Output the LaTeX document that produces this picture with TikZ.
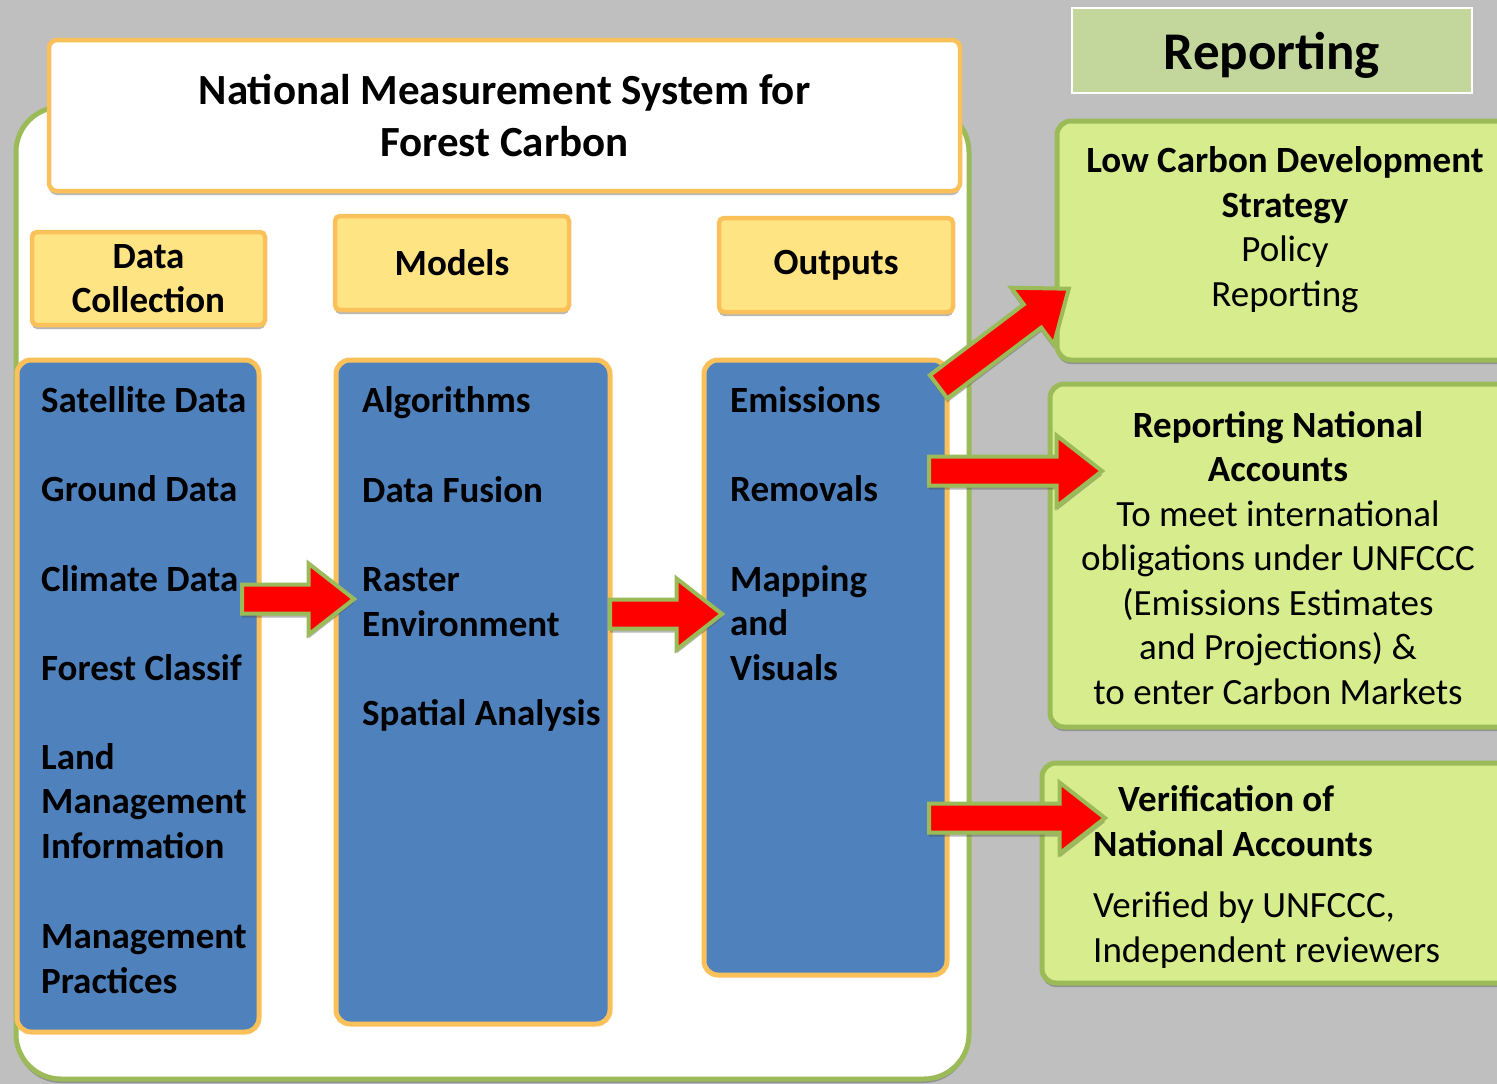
\documentclass[tikz,border=0pt]{standalone}
\usepackage{fontspec}
\setmainfont{Carlito}
\usetikzlibrary{shadows,shapes.arrows}

\definecolor{bggray}{RGB}{191,191,191}
\definecolor{leafgreen}{RGB}{155,187,89}
\definecolor{limefill}{RGB}{215,236,140}
\definecolor{sagefill}{RGB}{195,214,155}
\definecolor{amber}{RGB}{250,192,90}
\definecolor{butter}{RGB}{255,228,131}
\definecolor{steel}{RGB}{79,129,189}

\begin{document}
\begin{tikzpicture}[x=1pt,y=-1pt,
  boxshadow/.style={drop shadow={shadow xshift=0pt,shadow yshift=-4pt,opacity=.4,fill=black!70}},
  titlebox/.style={draw=amber,line width=4.5pt,fill=white,rounded corners=8pt,boxshadow,align=center,
    font=\fontsize{43}{52}\selectfont\bfseries},
  headbox/.style={draw=amber,line width=4.5pt,fill=butter,rounded corners=5pt,boxshadow,align=center,
    font=\fontsize{37}{44.5}\selectfont\bfseries},
  colbox/.style={draw=amber,line width=5pt,fill=steel,rounded corners=14pt},
  greenbox/.style={draw=leafgreen,line width=5pt,fill=limefill,rounded corners=14pt,boxshadow},
  % multi-line texts sit on the baseline of their last line
  item/.style={anchor=base west,align=left,inner sep=0pt,font=\fontsize{37}{44.5}\selectfont\bfseries},
  note/.style={anchor=base,align=center,inner sep=0pt,font=\fontsize{37}{44.5}\selectfont},
  bigarrow/.style={single arrow,draw=leafgreen,line width=4pt,fill=red,anchor=tail,
    inner xsep=0pt,inner ysep=12.5pt,minimum height=#1,single arrow head extend=21pt,
    single arrow tip angle=76,single arrow head indent=0pt,boxshadow},
]
\clip (0,0) rectangle (1497,1084);
\fill[bggray] (0,0) rectangle (1497,1084);

% measurement system frame
\draw[leafgreen,line width=5pt,fill=white,rounded corners=45pt,boxshadow] (16,107) rectangle (969,1079);
\node[titlebox,minimum width=911pt,minimum height=151pt] (nms) at (504.5,115.5) {National Measurement System for\\Forest Carbon};

\node[headbox,minimum width=233pt,minimum height=93pt] (collecthd) at (148.5,278.5) {Data\\Collection};
\node[headbox,minimum width=234pt,minimum height=94pt] (modelshd) at (452,263) {Models};
\node[headbox,minimum width=234pt,minimum height=94pt] (outputshd) at (836,265) {Outputs};

\node[colbox,minimum width=242pt,minimum height=672pt] (collectcol) at (138,696) {};
\node[colbox,minimum width=274pt,minimum height=664pt] (modelscol) at (473,692) {};
\node[colbox,minimum width=243pt,minimum height=615pt] (outputscol) at (825.5,667.5) {};

% reporting side
\node[draw=white,line width=2pt,fill=sagefill,minimum width=400pt,minimum height=85pt,text depth=0pt,
  font=\fontsize{53}{60}\selectfont\bfseries] (rep) at (1272,50.5) {Reporting};
\node[greenbox,minimum width=473pt,minimum height=239pt] (lcdsbox) at (1293.5,240.5) {};
\node[greenbox,minimum width=480pt,minimum height=343pt] (rnabox) at (1290,555.5) {};
\node[greenbox,minimum width=488pt,minimum height=220pt] (vnabox) at (1286,873) {};

% arrows
\node[bigarrow=112pt] (toModels) at (240,599) {};
\node[bigarrow=112pt] (toOutputs) at (608,614) {};
\node[bigarrow=163pt,rotate=37] (toStrategy) at (937,388) {};
\node[bigarrow=173pt] (toAccounts) at (927,471) {};
\node[bigarrow=176pt] (toVerify) at (927,818) {};

% data collection
\node[item] (sat) at (41,412) {Satellite Data};
\node[item] (ground) at (41,501) {Ground Data};
\node[item] (climate) at (41,591) {Climate Data};
\node[item] (forest) at (41,680) {Forest Classif};
\node[item] (landmgmt) at (41,858) {Land\\Management\\Information};
\node[item] (practices) at (41,993) {Management\\Practices};
% models
\node[item] (algo) at (362,412) {Algorithms};
\node[item] (fusion) at (362,502) {Data Fusion};
\node[item] (raster) at (362,636) {Raster\\Environment};
\node[item] (spatial) at (362,725) {Spatial Analysis};
% outputs
\node[item] (emis) at (730,412) {Emissions};
\node[item] (remov) at (730,501) {Removals};
\node[item] (mapping) at (730,680) {Mapping\\and\\Visuals};

\node[note] (lcds) at (1285,306) {\textbf{Low Carbon Development}\\\textbf{Strategy}\\Policy\\Reporting};
\node[note] (rna) at (1278,704) {\textbf{Reporting National}\\\textbf{Accounts}\\To meet international\\obligations under UNFCCC\\(Emissions Estimates\\and Projections) \&\\to enter Carbon Markets};
\node[note,anchor=base west,align=left] (vna) at (1093,962) {\hspace*{25pt}\textbf{Verification of}\\\textbf{National Accounts}\\[17pt]Verified by UNFCCC,\\Independent reviewers};
\end{tikzpicture}
\end{document}
